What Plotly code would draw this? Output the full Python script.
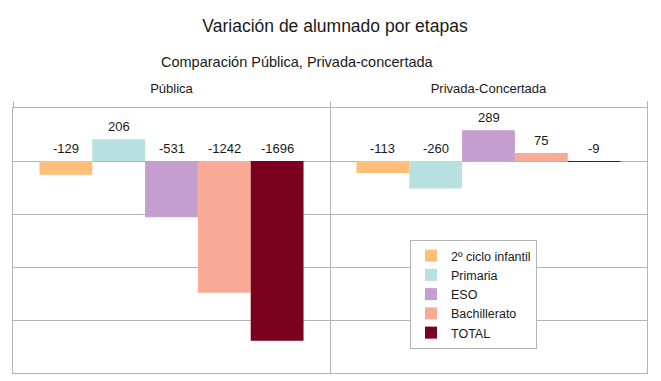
import plotly.graph_objects as go

categories = ["Pública", "Privada-Concertada"]
series_names = ["2º ciclo infantil", "Primaria", "ESO", "Bachillerato", "TOTAL"]
infantil = [-129, -113]
primaria = [206, -260]
eso = [-531, 289]
bachillerato = [-1242, 75]
total = [-1696, -9]
series_values = [infantil, primaria, eso, bachillerato, total]
colors = ["#FFBF78", "#B7E1E1", "#C49ECE", "#F9AA96", "#7B0020"]

# page body adds an 8px offset; compensate so absolute positions match
OFF = 8
WIN_W, WIN_H = 661, 381
W, H = WIN_W - OFF, WIN_H - OFF
# absolute plot-area edges in the window
PL, PR, PT, PB = 13, 647, 108, 373
L, R, T, B = PL - OFF, WIN_W - PR, PT - OFF, WIN_H - PB
grid = "#B3B3B3"
font = "Liberation Sans"
txt = "#1a1a1a"
bargap = 0.167

xpos = list(range(len(categories)))
fig = go.Figure()
for name, vals, col in zip(series_names, series_values, colors):
    fig.add_trace(go.Bar(x=xpos, y=vals, name=name, marker=dict(color=col, line=dict(width=0))))

ann = []
n = len(series_names)
bw = (1 - bargap) / n
for i, vals in enumerate(series_values):
    off = -(1 - bargap) / 2 + (i + 0.5) * bw
    for c, v in enumerate(vals):
        ann.append(dict(x=c + off, y=max(v, 0), xref="x", yref="y", text=str(v),
                        showarrow=False, yanchor="bottom", yshift=3,
                        font=dict(family=font, size=13, color=txt)))

ph = PB - PT
pw = PR - PL
ann.append(dict(x=(297 - PL) / pw, y=(PB - 62) / ph, xref="paper", yref="paper",
                text="Comparación Pública, Privada-concertada", showarrow=False,
                xanchor="center", yanchor="middle",
                font=dict(family=font, size=14.5, color=txt)))

fig.update_layout(
    width=W, height=H,
    margin=dict(l=L, r=R, t=T, b=B, autoexpand=False),
    paper_bgcolor="white", plot_bgcolor="white",
    title=dict(text="Variación de alumnado por etapas",
               x=(335 - OFF) / W, xanchor="center",
               y=1 - (26 - OFF) / H, yanchor="middle", yref="container",
               font=dict(family=font, size=17.5, color=txt)),
    barmode="group", bargap=bargap, bargroupgap=0,
    showlegend=True,
    legend=dict(x=(410 - PL) / pw, y=(PB - 240) / ph, xanchor="left", yanchor="top",
                bgcolor="white", bordercolor=grid, borderwidth=1,
                font=dict(family=font, size=12.5, color=txt),
                itemwidth=30, tracegroupgap=0),
    annotations=ann,
    xaxis=dict(range=[-0.5, 1.5], side="top", tickvals=xpos, ticktext=categories,
               ticks="", showgrid=False, zeroline=False, automargin=False,
               ticklabelstandoff=9,
               showline=True, mirror=True, linecolor=grid, linewidth=1,
               tickfont=dict(family=font, size=13, color=txt),
               minor=dict(tick0=-0.5, dtick=1, showgrid=True, gridcolor=grid, gridwidth=1,
                          ticks="outside", ticklen=6, tickcolor=grid)),
    yaxis=dict(range=[-2000, 500], dtick=500, showticklabels=False, ticks="",
               showgrid=True, gridcolor=grid, gridwidth=1, automargin=False,
               zeroline=True, zerolinecolor=grid, zerolinewidth=1,
               showline=True, mirror=True, linecolor=grid, linewidth=1),
)

fig.write_html("out.html")
